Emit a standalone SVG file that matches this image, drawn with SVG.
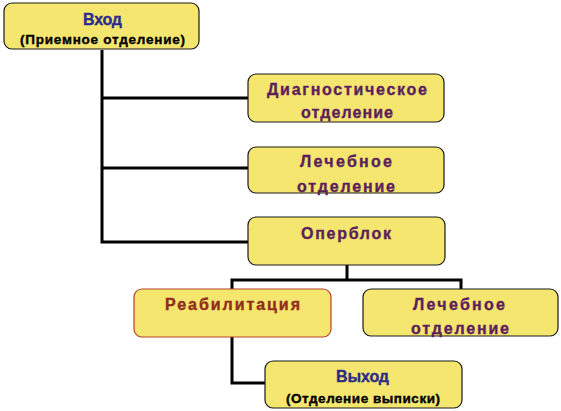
<svg xmlns="http://www.w3.org/2000/svg" width="561" height="411" viewBox="0 0 561 411">
<style>
.box{fill:#f5e66f;stroke:#1a1a1a;stroke-width:1.2}
.boxr{fill:#f5e66f;stroke:#b8432a;stroke-width:1.2}
.t{font-family:"Liberation Sans",Arial,sans-serif;font-weight:bold;text-anchor:middle;stroke-width:0.35}
.p{fill:#5c1f5c;stroke:#5c1f5c;font-size:16px}
.b{fill:#2b2b8c;stroke:#2b2b8c;font-size:16px}
.k{fill:#000;stroke:#000;font-size:13.5px}
.r{fill:#8f2e1b;stroke:#8f2e1b;font-size:16px}
.c{fill:none;stroke:#000;stroke-width:3}
</style>
<rect width="561" height="411" fill="#fff"/>
<g id="connectors">
<polyline class="c" points="102,50 102,242 248,242"/>
<line class="c" x1="102" y1="98" x2="248" y2="98"/>
<line class="c" x1="102" y1="168" x2="248" y2="168"/>
<polyline class="c" points="232,289 232,280 461,280 461,289"/>
<line class="c" x1="347" y1="265" x2="347" y2="280"/>
<polyline class="c" points="232,337 232,383 265,383"/>
</g>
<g id="vhod">
<rect class="box" x="4" y="3" width="195" height="46" rx="8"/>
<text class="t b" x="102.5" y="25" textLength="39" lengthAdjust="spacing">Вход</text>
<text class="t k" x="102.5" y="43.5" textLength="165" lengthAdjust="spacing">(Приемное отделение)</text>
</g>
<g id="diag">
<rect class="box" x="248" y="74" width="196" height="48" rx="8"/>
<text class="t p" x="347" y="95" textLength="160" lengthAdjust="spacing">Диагностическое</text>
<text class="t p" x="347" y="118" textLength="92" lengthAdjust="spacing">отделение</text>
</g>
<g id="lech1">
<rect class="box" x="248" y="147" width="196" height="46" rx="8"/>
<text class="t p" x="346" y="167" textLength="92" lengthAdjust="spacing">Лечебное</text>
<text class="t p" x="346" y="191.5" textLength="98" lengthAdjust="spacing">отделение</text>
</g>
<g id="operblok">
<rect class="box" x="248" y="217" width="197" height="48" rx="8"/>
<text class="t p" x="346" y="239" textLength="90" lengthAdjust="spacing">Оперблок</text>
</g>
<g id="reab">
<rect class="boxr" x="134" y="289" width="197" height="48" rx="8"/>
<text class="t r" x="232.5" y="310" textLength="135" lengthAdjust="spacing">Реабилитация</text>
</g>
<g id="lech2">
<rect class="box" x="363" y="289" width="195" height="47" rx="8"/>
<text class="t p" x="459" y="310" textLength="92" lengthAdjust="spacing">Лечебное</text>
<text class="t p" x="460" y="334" textLength="98" lengthAdjust="spacing">отделение</text>
</g>
<g id="vyhod">
<rect class="box" x="265" y="361" width="197" height="47" rx="8"/>
<text class="t b" x="362.5" y="381.5" textLength="53" lengthAdjust="spacing">Выход</text>
<text class="t k" x="363" y="403" textLength="154" lengthAdjust="spacing">(Отделение выписки)</text>
</g>
</svg>
